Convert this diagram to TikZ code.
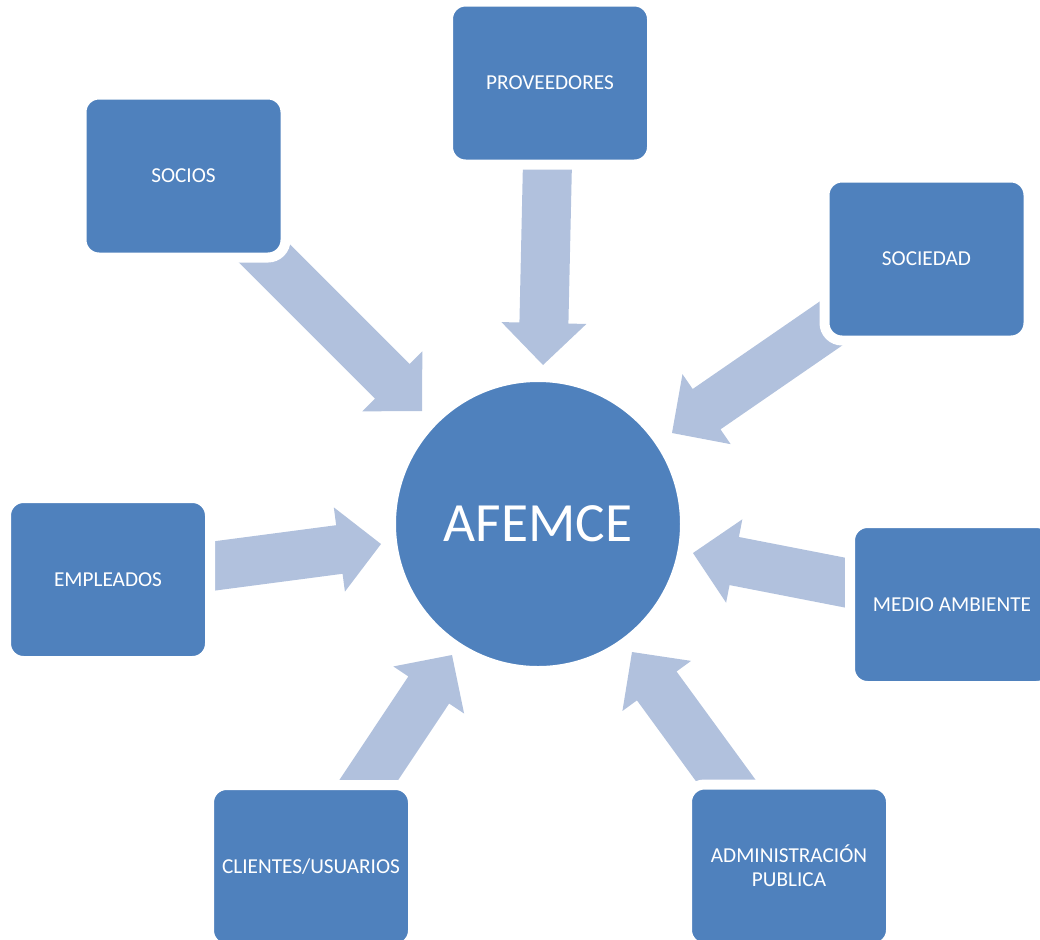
\documentclass[tikz,border=0pt]{standalone}
\usepackage{fontspec}
\setmainfont{Carlito}
\usetikzlibrary{calc}

\definecolor{boxblue}{RGB}{79,129,189}
\definecolor{arrowblue}{RGB}{177,193,221}

% block arrow from #1 to #2, filled as one polygon
\newcommand{\flecha}[2]{%
  \coordinate (h) at ($(#2)!0.84cm!(#1)$);
  \fill[arrowblue]
    ($(#1)!0.49cm!-90:(#2)$) -- ($(h)!0.49cm!90:(#1)$)
    -- ($(h)!0.85cm!90:(#1)$) -- (#2)
    -- ($(h)!0.85cm!-90:(#1)$) -- ($(h)!0.49cm!-90:(#1)$)
    -- ($(#1)!0.49cm!90:(#2)$) -- cycle;
}

\begin{document}
\begin{tikzpicture}[
    grupo/.style = {fill = boxblue, draw = white, line width = 0.2cm,
      rounded corners = 0.35cm, minimum width = 4.08cm, minimum height = 3.26cm,
      text = white, align = center, font = \fontsize{12.1}{13.5}\selectfont},
    centro/.style = {circle, fill = boxblue, draw = white, line width = 0.2cm,
      minimum size = 5.88cm, text = white, font = \fontsize{31.5}{36}\selectfont}
  ]

  \useasboundingbox (0, 0) rectangle (20.8, -18.78);

  % ends of the arrows
  \coordinate (socios-a) at (5.00, -4.78);
  \coordinate (socios-b) at (8.44, -8.22);
  \coordinate (prov-a) at (10.955, -3.00);
  \coordinate (prov-b) at (10.86, -7.30);
  \coordinate (soc-a) at (16.72, -6.40);
  \coordinate (soc-b) at (13.44, -8.66);
  \coordinate (emp-a) at (3.90, -11.37);
  \coordinate (emp-b) at (7.62, -10.88);
  \coordinate (medio-a) at (17.30, -11.73);
  \coordinate (medio-b) at (13.86, -11.06);
  \coordinate (cli-a) at (7.11, -16.00);
  \coordinate (cli-b) at (9.04, -13.10);
  \coordinate (adm-a) at (14.80, -16.00);
  \coordinate (adm-b) at (12.64, -13.04);

  \flecha{socios-a}{socios-b}
  \flecha{prov-a}{prov-b}
  \flecha{soc-a}{soc-b}
  \flecha{emp-a}{emp-b}
  \flecha{medio-a}{medio-b}
  \flecha{cli-a}{cli-b}
  \flecha{adm-a}{adm-b}

  \node[centro] (afemce) at (10.76, -10.48) {AFEMCE};

  \node[grupo] (socios) at (3.67, -3.52) {SOCIOS};
  \node[grupo] (proveedores) at (11.00, -1.66) {PROVEEDORES};
  \node[grupo] (sociedad) at (18.53, -5.18) {SOCIEDAD};
  \node[grupo] (empleados) at (2.16, -11.59) {EMPLEADOS};
  \node[grupo] (medio) at (19.04, -12.09) {MEDIO AMBIENTE};
  \node[grupo] (clientes) at (6.22, -17.33) {CLIENTES/USUARIOS};
  \node[grupo] (admin) at (15.78, -17.32) {ADMINISTRACIÓN\\PUBLICA};

\end{tikzpicture}
\end{document}
